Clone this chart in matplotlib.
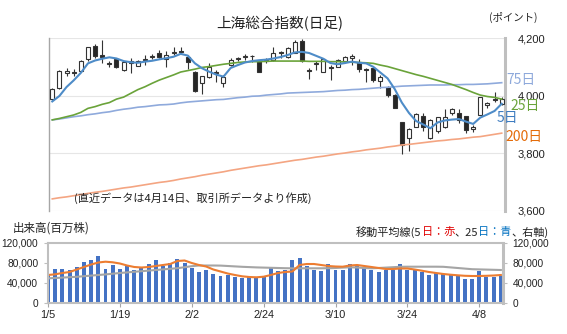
import matplotlib
matplotlib.use('Agg')
import matplotlib.pyplot as plt
from matplotlib.patches import Rectangle
from matplotlib.ticker import FuncFormatter

plt.rcParams['font.family'] = ['Liberation Sans', 'Noto Sans CJK JP', 'DejaVu Sans']
JP = ['Noto Sans CJK JP', 'Liberation Sans', 'DejaVu Sans']

# ---------------- data ----------------
tick_labels = ['1/5', '1/19', '2/2', '2/24', '3/10', '3/24', '4/8']
tick_index = [0, 10, 20, 30, 40, 50, 60]

opens = [3987, 4026, 4080, 4082, 4087, 4126, 4172, 4141, 4114, 4126,
         4089, 4112, 4104, 4124, 4133, 4147, 4126, 4147, 4155, 4133,
         4083, 4043, 4066, 4083, 4043, 4105, 4128, 4133, 4139, 4121,
         4120, 4124, 4151, 4133, 4149, 4191, 4089, 4111, 4083, 4100,
         4100, 4120, 4132, 4118, 4092, 4095, 4052, 4031, 4002, 3907,
         3852, 3892, 3931, 3852, 3878, 3890, 3939, 3939, 3928, 3886,
         3933, 3969, 3988, 3971]
closes = [4022, 4086, 4086, 4077, 4121, 4168, 4138, 4135, 4110, 4098,
          4116, 4119, 4120, 4128, 4138, 4135, 4141, 4151, 4150, 4116,
          4016, 4069, 4099, 4078, 4066, 4124, 4131, 4137, 4136, 4081,
          4124, 4147, 4148, 4164, 4187, 4121, 4086, 4114, 4126, 4097,
          4124, 4135, 4136, 4091, 4089, 4053, 4065, 4002, 3957, 3829,
          3883, 3936, 3892, 3917, 3925, 3925, 3953, 3914, 3881, 3892,
          3995, 3973, 3985, 3990]
highs = [4027, 4089, 4097, 4092, 4124, 4170, 4179, 4193, 4121, 4130,
         4118, 4130, 4124, 4141, 4145, 4158, 4156, 4170, 4170, 4141,
         4087, 4069, 4112, 4089, 4072, 4130, 4135, 4143, 4141, 4124,
         4130, 4170, 4156, 4168, 4193, 4196, 4095, 4120, 4126, 4106,
         4126, 4138, 4145, 4126, 4095, 4095, 4072, 4034, 4005, 3908,
         3887, 3940, 3939, 3918, 3927, 3953, 3958, 3953, 3931, 3898,
         3996, 3979, 4014, 3994]
lows = [3985, 4023, 4069, 4068, 4083, 4120, 4130, 4112, 4098, 4095,
        4087, 4078, 4103, 4106, 4126, 4130, 4100, 4141, 4145, 4091,
        4014, 4005, 4063, 4048, 4031, 4103, 4120, 4124, 4118, 4081,
        4112, 4121, 4130, 4130, 4147, 4118, 4057, 4089, 4082, 4054,
        4099, 4119, 4106, 4083, 4048, 4048, 4027, 3996, 3956, 3796,
        3808, 3891, 3879, 3851, 3870, 3887, 3933, 3904, 3872, 3875,
        3933, 3956, 3979, 3968]

ma5 = [3980, 3999, 4030, 4053, 4079, 4112, 4122, 4128, 4133, 4129,
       4120, 4116, 4114, 4118, 4121, 4126, 4130, 4135, 4145, 4139,
       4112, 4095, 4083, 4073, 4066, 4096, 4106, 4115, 4120, 4123,
       4125, 4129, 4134, 4141, 4150, 4152, 4148, 4138, 4128, 4113,
       4109, 4113, 4118, 4114, 4112, 4100, 4080, 4060, 4023, 3976,
       3940, 3912, 3900, 3887, 3907, 3914, 3917, 3919, 3910, 3902,
       3924, 3935, 3947, 3972]
ma25 = [3916, 3921, 3927, 3933, 3942, 3956, 3962, 3970, 3976, 3988,
        3995, 4008, 4021, 4031, 4043, 4054, 4063, 4072, 4082, 4087,
        4092, 4098, 4101, 4105, 4109, 4112, 4115, 4117, 4118, 4118,
        4119, 4120, 4120, 4120, 4120, 4120, 4119, 4119, 4119, 4118,
        4118, 4117, 4116, 4115, 4114, 4112, 4106, 4101, 4094, 4087,
        4080, 4073, 4067, 4060, 4053, 4046, 4039, 4030, 4021, 4011,
        4002, 3997, 3994, 3988]
ma75 = [3916, 3919, 3923, 3927, 3930, 3934, 3937, 3941, 3944, 3949,
        3953, 3956, 3960, 3962, 3965, 3968, 3969, 3971, 3975, 3978,
        3980, 3982, 3984, 3986, 3987, 3990, 3993, 3995, 3998, 3999,
        4002, 4004, 4006, 4009, 4010, 4011, 4012, 4013, 4014, 4016,
        4018, 4019, 4021, 4022, 4024, 4026, 4028, 4029, 4031, 4033,
        4034, 4035, 4036, 4037, 4037, 4037, 4038, 4038, 4039, 4039,
        4040, 4041, 4043, 4045]
ma200 = [3642, 3646, 3649, 3653, 3657, 3661, 3665, 3668, 3672, 3676,
         3680, 3683, 3687, 3691, 3695, 3699, 3702, 3706, 3711, 3715,
         3719, 3724, 3728, 3732, 3736, 3741, 3745, 3749, 3753, 3757,
         3760, 3764, 3768, 3772, 3776, 3779, 3783, 3787, 3790, 3794,
         3798, 3801, 3805, 3808, 3812, 3815, 3818, 3822, 3825, 3829,
         3831, 3834, 3837, 3840, 3843, 3845, 3848, 3850, 3853, 3856,
         3858, 3862, 3866, 3870]

volume = [58000, 68500, 67500, 66000, 72000, 83000, 86000, 94000, 67500, 76000,
          69000, 74000, 66000, 70000, 78000, 87000, 75000, 80700, 89000, 81000,
          71000, 62700, 66500, 59000, 54500, 56000, 52000, 50000, 52700, 51000,
          55000, 71000, 63500, 66500, 86000, 91000, 74000, 67000, 64700, 79000,
          66000, 67000, 77500, 77000, 72700, 67000, 62700, 66000, 66000, 79000,
          67000, 67000, 62700, 57000, 60700, 59000, 57000, 56000, 49000, 48000,
          64700, 52700, 52700, 54000]
vol_ma5 = [56000, 57400, 60000, 62000, 67000, 72000, 77000, 81000, 82600, 81400,
           79000, 75000, 72000, 71000, 72000, 74000, 76000, 78000, 84000, 85000,
           80000, 76000, 73000, 67000, 63000, 59000, 56000, 53400, 52000, 51400,
           52600, 56000, 60000, 62000, 63000, 76000, 78000, 78000, 76000, 74000,
           73000, 72600, 75000, 76000, 74000, 72000, 70000, 68000, 68000, 69000,
           69000, 67000, 64600, 62000, 60000, 58000, 56600, 55400, 54400, 54000,
           54000, 54400, 55000, 56000]
vol_ma25 = [49400, 50000, 50800, 51600, 52400, 53600, 54800, 56000, 57200, 58600,
            60000, 61200, 62400, 63600, 64800, 66000, 67200, 68400, 69600, 71600,
            73600, 75000, 75000, 75000, 74800, 74000, 73200, 72400, 71800, 71200,
            70800, 70400, 70000, 69600, 69400, 69400, 69400, 69400, 69400, 69600,
            70000, 70800, 71400, 71000, 70000, 69400, 70000, 70800, 71600, 72400,
            72600, 72600, 72600, 72600, 72600, 72400, 71200, 70000, 68800, 67600,
            67200, 66800, 66400, 66000]

price_ticks = [3600, 3800, 4000, 4200]
vol_ticks = [0, 40000, 80000, 120000]

# ---------------- figure ----------------
W, H = 567, 334
fig = plt.figure(figsize=(W / 100, H / 100), dpi=100)
fig.patch.set_facecolor('white')

def fx(px):
    return px / W

def fy(py):
    return 1 - py / H

comma = FuncFormatter(lambda v, p: f'{int(v):,}')

# ---- price panel ----
ax = fig.add_axes([fx(49), fy(211), fx(505 - 49), (211 - 38) / H])
n = len(opens)
x = list(range(n))
ax.set_xlim(-0.46, n - 1 + 0.46)
ax.set_ylim(3600, 4200)
ax.set_yticks(price_ticks)
ax.yaxis.set_major_formatter(comma)
ax.yaxis.tick_right()
ax.tick_params(axis='y', length=0, pad=9, labelsize=8, labelcolor='#222222')
ax.set_xticks([])
ax.grid(axis='y', color='#E6E6E6', lw=0.8)
ax.set_axisbelow(True)
for s in ['top', 'bottom']:
    ax.spines[s].set_visible(False)
ax.spines['left'].set_color('#A6A6A6')
ax.spines['left'].set_linewidth(1.0)
ax.spines['right'].set_color('#BFBFBF')
ax.spines['right'].set_linewidth(2.2)

bw = 0.56
for i in x:
    o, h, l, c = opens[i], highs[i], lows[i], closes[i]
    ax.vlines(i, l, h, color='#333333', lw=0.8, zorder=2)
    bottom = min(o, c)
    height = max(abs(c - o), 2.0)
    fc = 'white' if c >= o else '#262626'
    ax.add_patch(Rectangle((i - bw / 2, bottom), bw, height, facecolor=fc,
                           edgecolor='#333333', lw=0.8, zorder=3))

ax.plot(x, ma200, color='#F4A582', lw=1.2, zorder=4)
ax.plot(x, ma75, color='#8FAADC', lw=1.2, zorder=4)
ax.plot(x, ma25, color='#6AA33A', lw=1.2, zorder=4)
ax.plot(x, ma5, color='#4E8CC8', lw=1.5, zorder=5)

# ---- volume panel ----
av = fig.add_axes([fx(48), fy(303), fx(503 - 48), 60 / H])
av.set_xlim(0, 63.3)
av.set_ylim(0, 120000)
av.bar(x, volume, width=0.55, color='#4472C4', zorder=2)
av.plot(x, vol_ma25, color='#A5A5A5', lw=1.5, zorder=3)
av.plot(x, vol_ma5, color='#ED7D31', lw=1.5, zorder=4)
av.set_yticks(vol_ticks)
av.yaxis.set_major_formatter(comma)
av.tick_params(axis='y', which='both', left=True, right=True, labelleft=True,
               labelright=True, length=3, color='#BFBFBF', labelsize=7.3,
               labelcolor='#222222', pad=4)
av.set_xticks(tick_index)
av.set_xticklabels(tick_labels)
av.tick_params(axis='x', length=3, color='#A6A6A6', labelsize=7.8,
               labelcolor='#222222', pad=2)
for s in av.spines.values():
    s.set_color('#BFBFBF')
    s.set_linewidth(1.5)
    s.set_zorder(6)
av.spines['right'].set_linewidth(2.2)

# ---- texts ----
fig.text(fx(280), fy(24), '上海総合指数(日足)', family=JP, fontsize=10.5,
         ha='center', va='center', color='#222222')
fig.text(fx(513), fy(17), '(ポイント)', family=JP, fontsize=7.5,
         ha='center', va='center', color='#222222')
fig.text(fx(74), fy(198), '(直近データは4月14日、取引所データより作成)', family=JP,
         fontsize=8, ha='left', va='center', color='#222222')
fig.text(fx(13), fy(228), '出来高(百万株)', family=JP, fontsize=8.3,
         ha='left', va='center', color='#222222')

fig.text(fx(506), fy(80), '75日', family=JP, fontsize=10, ha='left',
         va='center', color='#8EA9DB')
fig.text(fx(510), fy(106), '25日', family=JP, fontsize=10, ha='left',
         va='center', color='#6AA33A')
fig.text(fx(497), fy(118), '5日', family=JP, fontsize=10, ha='left',
         va='center', color='#3E7CC0')
fig.text(fx(505), fy(137), '200日', family=JP, fontsize=10, ha='left',
         va='center', color='#E46C0A')

# multi-colour legend note
parts = [('移動平均線(5', '#222222'), ('日：赤', '#E00000'), ('、25', '#222222'),
         ('日：青', '#0070C0'), ('、右軸)', '#222222')]
fig.canvas.draw()
renderer = fig.canvas.get_renderer()
cur = 356
for txt, col in parts:
    t = fig.text(fx(cur), fy(232), txt, family=JP, fontsize=8, ha='left',
                 va='center', color=col)
    bb = t.get_window_extent(renderer=renderer)
    cur += bb.width

fig.savefig('out.png', dpi=100, facecolor='white')
